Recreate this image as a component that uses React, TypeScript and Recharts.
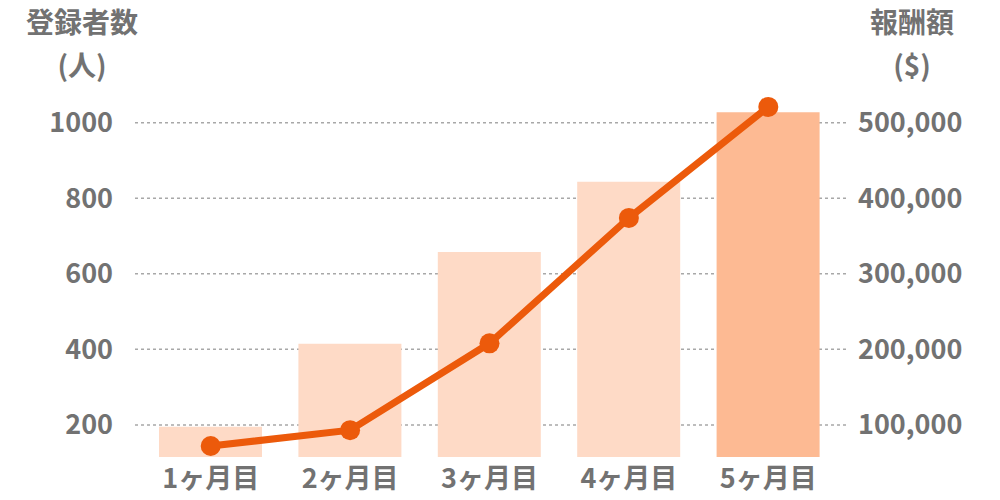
import React from 'react';
import { ComposedChart, Bar, Line, XAxis, YAxis, CartesianGrid, Cell } from 'recharts';

const months = ['1ヶ月目', '2ヶ月目', '3ヶ月目', '4ヶ月目', '5ヶ月目'];
const registrants = [195, 415, 658, 844, 1028];
const rewards = [72000, 93000, 208000, 374000, 521000];
const leftTicks = [200, 400, 600, 800, 1000];
const rightTicks = [100000, 200000, 300000, 400000, 500000];

const data = months.map((m, i) => ({ month: m, registrants: registrants[i], reward: rewards[i] }));

const FONT = '"Noto Sans CJK JP", "Noto Sans", sans-serif';
const TEXT = '#727272';
const LINE = '#ec5a0b';
const BAR = '#fedac6';
const BAR_HI = '#fdba93';

const tickStyle = { fill: TEXT, fontSize: 27, fontWeight: 700, fontFamily: FONT };

export default function App() {
  return (
    <div style={{ position: 'absolute', left: 0, top: 0, width: 1000, height: 500, background: '#fff', fontFamily: FONT }}>
      <div style={{ position: 'absolute', left: 22, top: 0, width: 120, textAlign: 'center', color: TEXT, fontSize: 28, fontWeight: 700, lineHeight: '43px' }}>
        <div>登録者数</div>
        <div>(人)</div>
      </div>
      <div style={{ position: 'absolute', left: 852, top: 0, width: 120, textAlign: 'center', color: TEXT, fontSize: 28, fontWeight: 700, lineHeight: '43px' }}>
        <div>報酬額</div>
        <div>($)</div>
      </div>
      <ComposedChart width={1000} height={500} data={data} margin={{ top: 85, right: 0, bottom: 0, left: 0 }}>
        <CartesianGrid
          yAxisId="left"
          vertical={false}
          horizontalValues={leftTicks}
          stroke="#a8a8a8"
          strokeDasharray="3 3"
          strokeWidth={1.5}
        />
        <XAxis
          dataKey="month"
          axisLine={false}
          tickLine={false}
          height={43}
          tickMargin={6}
          padding={{ left: 6, right: 9 }}
          tick={tickStyle}
          interval={0}
        />
        <YAxis
          yAxisId="left"
          orientation="left"
          width={135}
          domain={[115, 1100]}
          ticks={leftTicks}
          axisLine={false}
          tickLine={false}
          tickMargin={16}
          tick={tickStyle}
          allowDataOverflow
        />
        <YAxis
          yAxisId="right"
          orientation="right"
          width={153}
          domain={[57500, 550000]}
          ticks={rightTicks}
          axisLine={false}
          tickLine={false}
          tickMargin={5}
          tick={tickStyle}
          tickFormatter={(v: number) => v.toLocaleString('en-US')}
          allowDataOverflow
        />
        <Bar yAxisId="left" dataKey="registrants" barSize={103} isAnimationActive={false}>
          {data.map((_, i) => (
            <Cell key={i} fill={i === data.length - 1 ? BAR_HI : BAR} />
          ))}
        </Bar>
        <Line
          yAxisId="right"
          dataKey="reward"
          stroke={LINE}
          strokeWidth={7}
          dot={{ r: 10, fill: LINE, stroke: LINE, strokeWidth: 0 }}
          activeDot={false}
          isAnimationActive={false}
        />
      </ComposedChart>
    </div>
  );
}
